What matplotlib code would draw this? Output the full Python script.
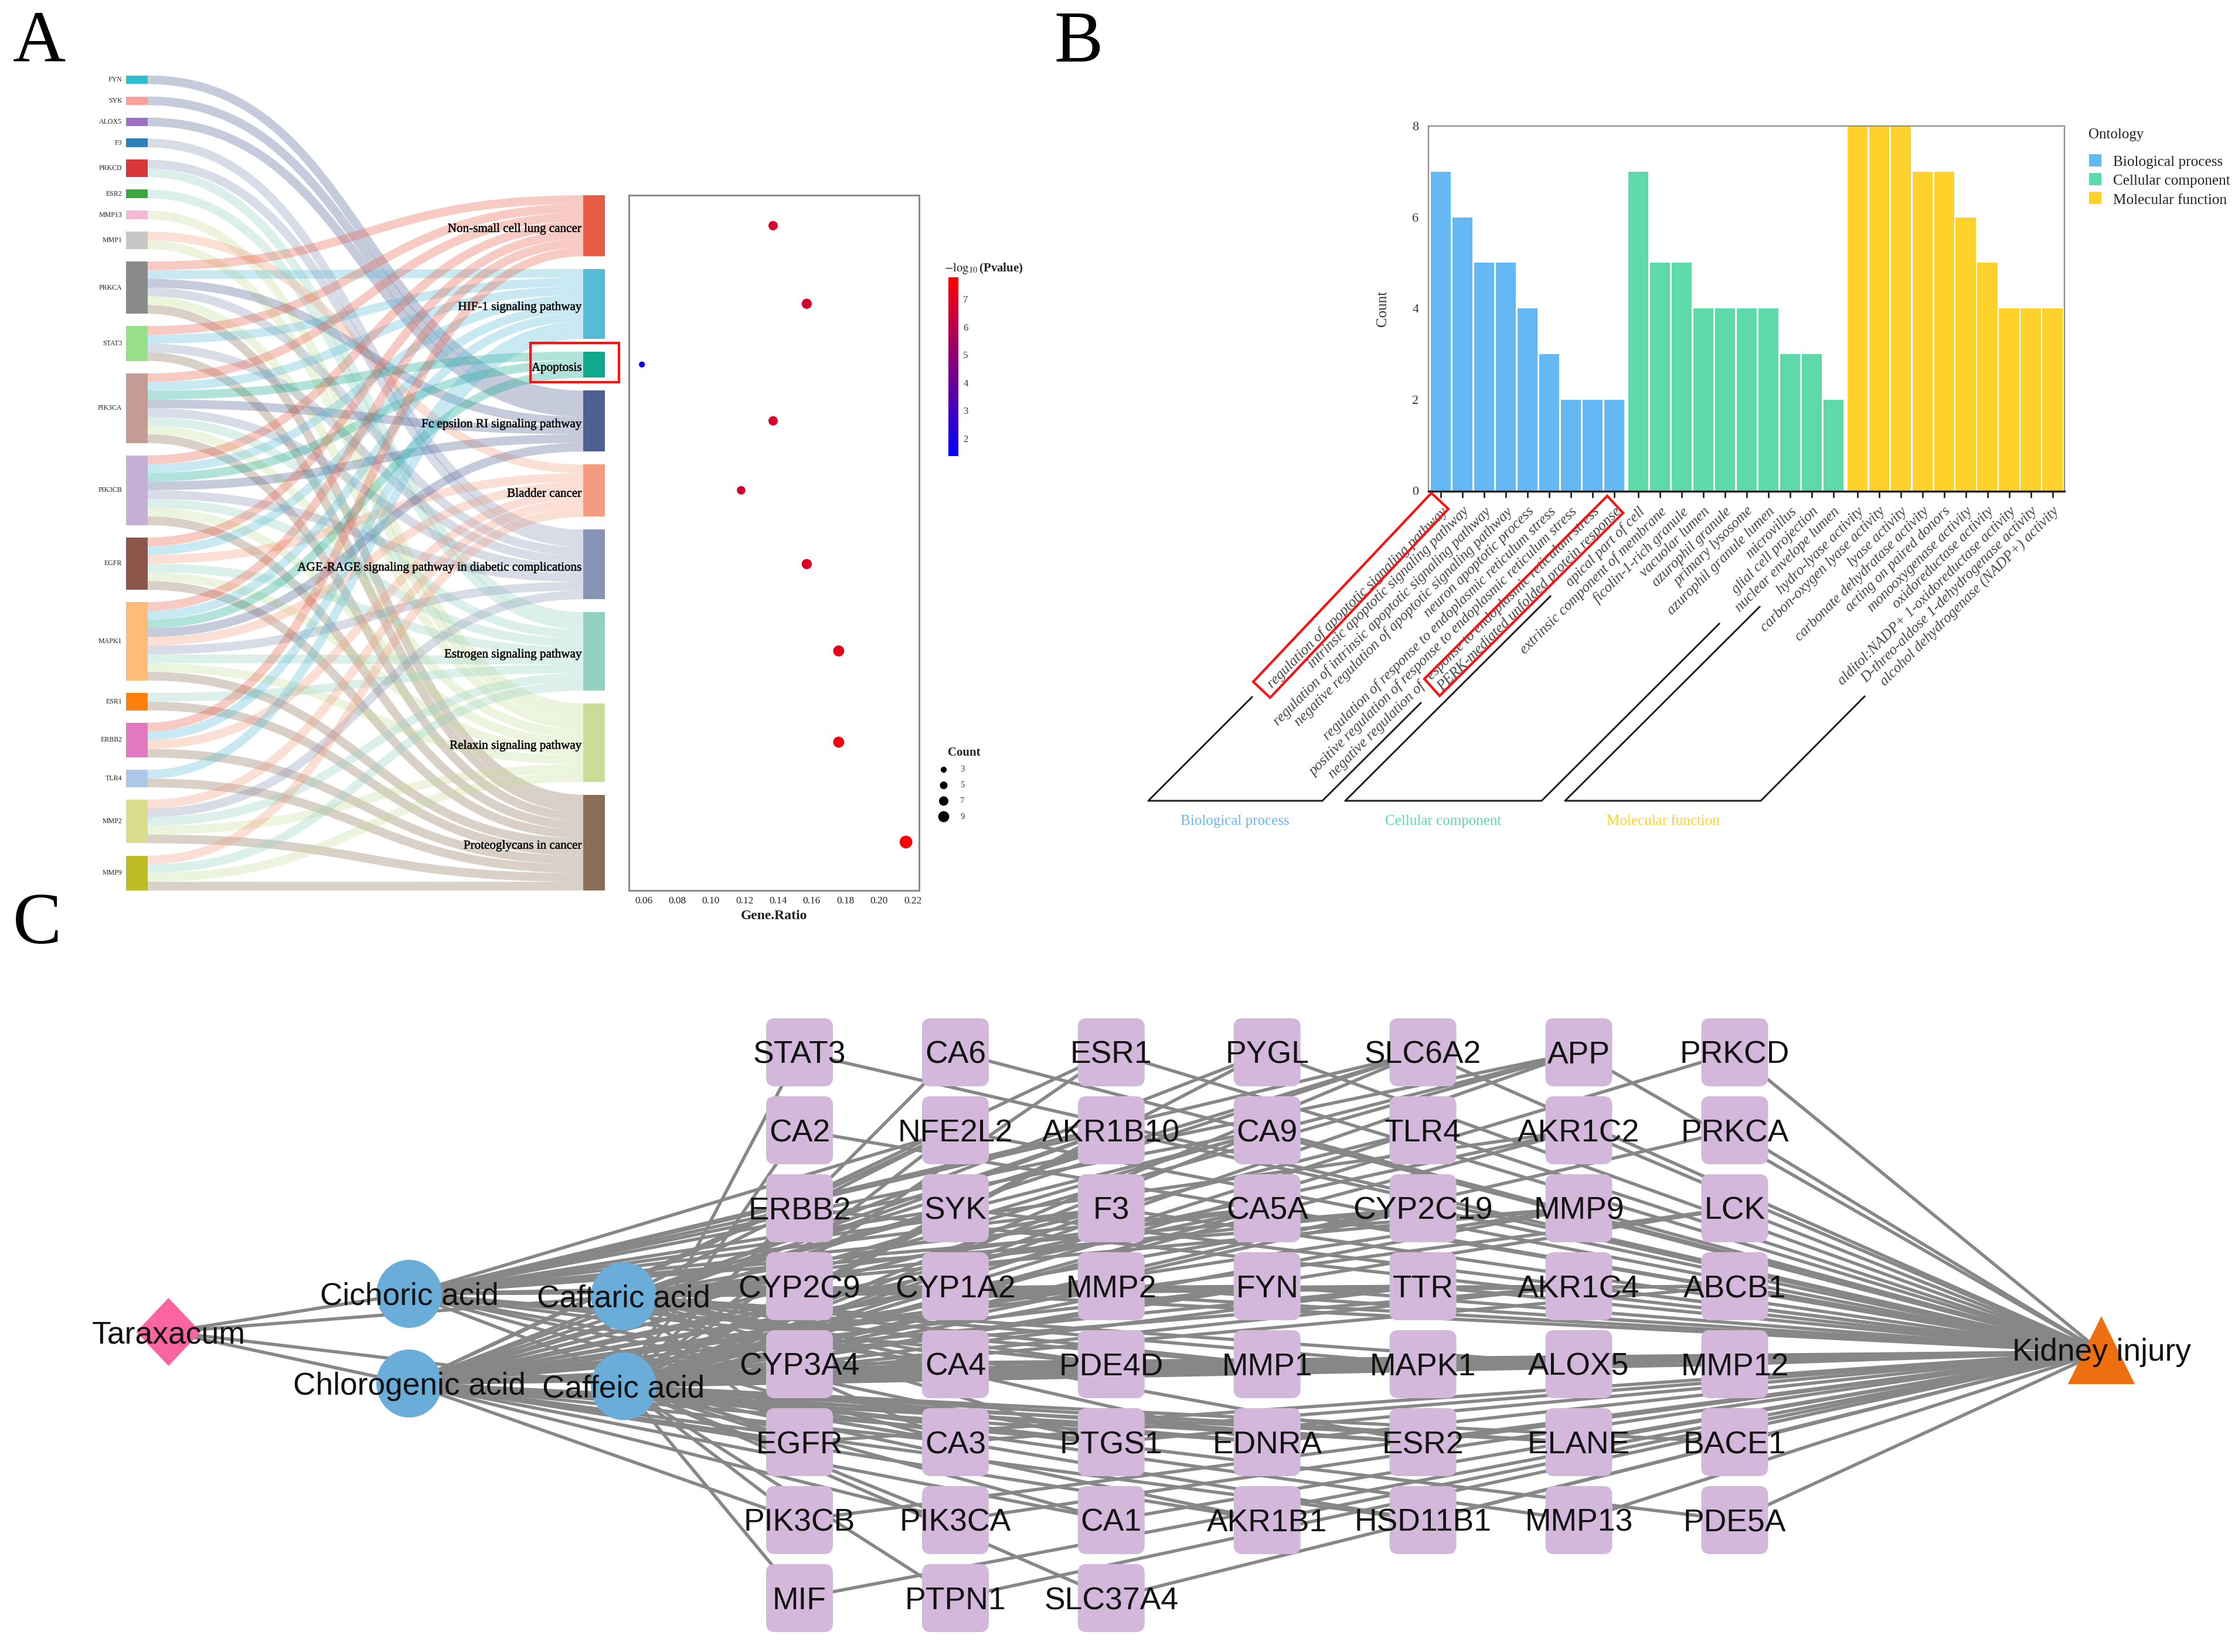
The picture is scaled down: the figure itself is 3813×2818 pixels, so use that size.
import matplotlib
matplotlib.use("Agg")
import matplotlib.pyplot as plt
import numpy as np
from matplotlib.path import Path
from matplotlib.patches import PathPatch, Rectangle, Polygon, Ellipse, FancyBboxPatch
from matplotlib.colors import LinearSegmentedColormap, Normalize
from matplotlib.cm import ScalarMappable
import matplotlib.patheffects as pe

W, H = 3813, 2818
SERIF = "Liberation Serif"
SANS = "Liberation Sans"
plt.rcParams["mathtext.fontset"] = "stix"

# ---- panel A data
genes = ["FYN", "SYK", "ALOX5", "F3", "PRKCD", "ESR2", "MMP13", "MMP1", "PRKCA", "STAT3",
         "PIK3CA", "PIK3CB", "EGFR", "MAPK1", "ESR1", "ERBB2", "TLR4", "MMP2", "MMP9"]
gene_colors = ["#2bc0d0", "#ff9e9a", "#9c6fc4", "#2f7fbb", "#d8363b", "#3aa73f", "#f7b6d2", "#c7c7c7",
               "#8a8a8a", "#98df8a", "#c49c94", "#c5b0d5", "#8c564b", "#ffbb78", "#ff7f0e", "#e377c2",
               "#aec7e8", "#dbdb8d", "#bcbd22"]
pathways = ["Non-small cell lung cancer", "HIF-1 signaling pathway", "Apoptosis",
            "Fc epsilon RI signaling pathway", "Bladder cancer",
            "AGE-RAGE signaling pathway in diabetic complications", "Estrogen signaling pathway",
            "Relaxin signaling pathway", "Proteoglycans in cancer"]
path_colors = ["#e85c45", "#56bbd6", "#10a98c", "#4c6092", "#f49c7f", "#8894b6", "#93d2c2", "#c9dd96", "#8a6d54"]
gene_links = {
    "FYN": [3], "SYK": [3], "ALOX5": [3], "F3": [5], "PRKCD": [5, 6], "ESR2": [6], "MMP13": [7],
    "MMP1": [4, 7], "PRKCA": [0, 1, 3, 5, 7, 8], "STAT3": [0, 1, 5, 8],
    "PIK3CA": [0, 1, 2, 3, 5, 6, 7, 8], "PIK3CB": [0, 1, 2, 3, 5, 6, 7, 8],
    "EGFR": [0, 1, 4, 6, 7, 8], "MAPK1": [0, 1, 2, 3, 4, 5, 6, 7, 8], "ESR1": [6, 8],
    "ERBB2": [0, 1, 4, 8], "TLR4": [1, 8], "MMP2": [4, 5, 6, 7, 8], "MMP9": [4, 6, 7, 8],
}
gene_ratio = [0.137, 0.157, 0.059, 0.137, 0.118, 0.157, 0.176, 0.176, 0.216]
path_counts = [7, 8, 3, 7, 6, 8, 9, 9, 11]
log_p = [6.8, 6.6, 1.5, 6.8, 6.7, 6.9, 7.1, 7.4, 7.75]
count_legend = [3, 5, 7, 9]

# ---- panel B data
bp_terms = ["regulation of apoptotic signaling pathway", "intrinsic apoptotic signaling pathway",
            "regulation of intrinsic apoptotic signaling pathway",
            "negative regulation of apoptotic signaling pathway", "neuron apoptotic process",
            "regulation of response to endoplasmic reticulum stress",
            "positive regulation of response to endoplasmic reticulum stress",
            "negative regulation of response to endoplasmic reticulum stress",
            "PERK-mediated unfolded protein response"]
bp_counts = [7, 6, 5, 5, 4, 3, 2, 2, 2]
cc_terms = ["apical part of cell", "extrinsic component of membrane", "ficolin-1-rich granule",
            "vacuolar lumen", "azurophil granule", "primary lysosome", "azurophil granule lumen",
            "microvillus", "glial cell projection", "nuclear envelope lumen"]
cc_counts = [7, 5, 5, 4, 4, 4, 4, 3, 3, 2]
mf_terms = ["hydro-lyase activity", "carbon-oxygen lyase activity", "lyase activity",
            "carbonate dehydratase activity", "acting on paired donors", "monooxygenase activity",
            "oxidoreductase activity", "alditol:NADP+ 1-oxidoreductase activity",
            "D-threo-aldose 1-dehydrogenase activity", "alcohol dehydrogenase (NADP+) activity"]
mf_counts = [8, 8, 8, 7, 7, 6, 5, 4, 4, 4]
onto_names = ["Biological process", "Cellular component", "Molecular function"]
onto_colors = ["#64b9f4", "#5ed9a9", "#ffd22b"]

# ---- panel C data
grid = [["STAT3", "CA2", "ERBB2", "CYP2C9", "CYP3A4", "EGFR", "PIK3CB", "MIF"],
        ["CA6", "NFE2L2", "SYK", "CYP1A2", "CA4", "CA3", "PIK3CA", "PTPN1"],
        ["ESR1", "AKR1B10", "F3", "MMP2", "PDE4D", "PTGS1", "CA1", "SLC37A4"],
        ["PYGL", "CA9", "CA5A", "FYN", "MMP1", "EDNRA", "AKR1B1"],
        ["SLC6A2", "TLR4", "CYP2C19", "TTR", "MAPK1", "ESR2", "HSD11B1"],
        ["APP", "AKR1C2", "MMP9", "AKR1C4", "ALOX5", "ELANE", "MMP13"],
        ["PRKCD", "PRKCA", "LCK", "ABCB1", "MMP12", "BACE1", "PDE5A"]]
compound_targets = {
    "Cichoric acid": ["ERBB2", "SYK", "NFE2L2", "AKR1B10", "CA9", "SLC6A2", "APP", "AKR1C2", "CYP2C9", "CYP1A2",
                      "MMP2", "FYN", "MMP9", "CYP2C19", "TTR", "AKR1C4", "ABCB1", "CYP3A4", "CA4", "PDE4D", "MMP1",
                      "EGFR", "CA3", "PTGS1", "CA5A", "F3"],
    "Chlorogenic acid": ["APP", "SLC6A2", "ESR1", "PYGL", "NFE2L2", "AKR1B10", "CA9", "TLR4", "AKR1C2", "CYP2C9",
                         "CYP1A2", "F3", "CA5A", "CYP2C19", "MMP9", "LCK", "MMP2", "FYN", "TTR", "PIK3CB", "PIK3CA",
                         "CA1", "EGFR", "CA3", "PTGS1", "EDNRA", "ESR2", "ELANE", "AKR1B1", "HSD11B1", "CYP3A4",
                         "CA4", "PDE4D", "MMP1", "MAPK1", "ALOX5", "MMP12", "AKR1C4"],
    "Caftaric acid": ["ERBB2", "CYP2C9", "CYP1A2", "NFE2L2", "AKR1B10", "SLC6A2", "APP", "CA5A", "F3", "MMP2",
                      "CYP2C19", "MMP9", "TTR", "FYN", "CYP3A4", "CA4", "PDE4D", "MMP1", "MAPK1", "ALOX5", "EGFR",
                      "CA3", "EDNRA", "ESR2", "AKR1C4", "ABCB1", "SYK", "PTGS1"],
    "Caffeic acid": ["STAT3", "CA2", "CA6", "NFE2L2", "ERBB2", "SYK", "ESR1", "AKR1B10", "PYGL", "CA9", "SLC6A2",
                     "TLR4", "APP", "AKR1C2", "PRKCD", "PRKCA", "CYP2C9", "CYP1A2", "MMP2", "FYN", "TTR", "AKR1C4",
                     "ABCB1", "CYP3A4", "CA4", "PDE4D", "MMP1", "MAPK1", "ALOX5", "MMP12", "EGFR", "CA3", "PTGS1",
                     "EDNRA", "ESR2", "ELANE", "BACE1", "PIK3CB", "PIK3CA", "CA1", "AKR1B1", "HSD11B1", "MMP13",
                     "PDE5A", "MIF", "PTPN1", "SLC37A4", "F3", "CA5A", "CYP2C19", "MMP9", "LCK"],
}

fig = plt.figure(figsize=(W / 100, H / 100), dpi=100, facecolor="white")


def px_axes(left, top, right, bottom):
    return fig.add_axes([left / W, 1 - bottom / H, (right - left) / W, (bottom - top) / H])


# ---------------- A: sankey
unit_px = 14.85
left_gap = 1.42
right_start = 13.76
right_gap = 1.475
axA = px_axes(215, 128.6, 1032, 1519)
total_units = sum(len(gene_links[g]) for g in genes) + left_gap * (len(genes) - 1)
axA.set_xlim(0, 1)
axA.set_ylim(total_units, 0)
axA.axis("off")
node_w = 37 / 817

gene_top = {}
y = 0
for g in genes:
    gene_top[g] = y
    y += len(gene_links[g]) + left_gap
path_top = []
y = right_start
for c in path_counts:
    path_top.append(y)
    y += c + right_gap

filled = [0] * len(pathways)
for g in genes:
    for k, p in enumerate(gene_links[g]):
        y0 = gene_top[g] + k + 0.5
        y1 = path_top[p] + filled[p] + 0.5
        filled[p] += 1
        x0, x1 = node_w, 1 - node_w
        xm = (x0 + x1) / 2
        band = Path([(x0, y0), (xm, y0), (xm, y1), (x1, y1)],
                    [Path.MOVETO, Path.CURVE4, Path.CURVE4, Path.CURVE4])
        axA.add_patch(PathPatch(band, fill=False, edgecolor=path_colors[p], alpha=0.32,
                                lw=unit_px * 0.72, capstyle="butt"))

for g, c in zip(genes, gene_colors):
    n = len(gene_links[g])
    axA.add_patch(Rectangle((0, gene_top[g]), node_w, n, color=c, lw=0))
    axA.text(-0.008, gene_top[g] + n / 2, g, ha="right", va="center", fontsize=8.6, family=SERIF, color="#222222")
for i, p in enumerate(pathways):
    axA.add_patch(Rectangle((1 - node_w, path_top[i]), node_w, path_counts[i], color=path_colors[i], lw=0))
    axA.text(1 - node_w - 0.003, path_top[i] + path_counts[i] / 2 + 0.4, p, ha="right", va="center",
             fontsize=15.2, family=SERIF, color="#111111",
             path_effects=[pe.withStroke(linewidth=0.4, foreground="#111111")])

# ---------------- A: dot plot, same vertical layout as the right-hand nodes
axD = px_axes(1072.5, 333, 1568, 1519)
axD.set_xlim(0.0511, 0.2238)
top_units, bottom_units = (333 - 128.6) / unit_px, (1519 - 128.6) / unit_px
axD.set_ylim(bottom_units, top_units)
path_mid = [t + c / 2 for t, c in zip(path_top, path_counts)]
dot_cmap = LinearSegmentedColormap.from_list("bluered", ["#0000ff", "#ff0000"])
dot_norm = Normalize(1.37, 7.79)


def dot_size(count):
    return ((6 + 1.42 * np.asarray(count, dtype=float)) * 0.72) ** 2


axD.scatter(gene_ratio, path_mid, s=dot_size(path_counts), c=log_p, cmap=dot_cmap, norm=dot_norm, lw=0)
axD.set_yticks([])
axD.set_xticks(np.arange(0.06, 0.221, 0.02))
axD.set_xticklabels(["%.2f" % v for v in np.arange(0.06, 0.221, 0.02)], family=SERIF, fontsize=12.5, color="#222222")
axD.tick_params(axis="x", length=0, pad=7)
axD.set_xlabel("Gene.Ratio", family=SERIF, fontsize=17, fontweight="bold", color="#222222", labelpad=5)
for s in axD.spines.values():
    s.set_color("#8c8c8c")
    s.set_linewidth(2.2)

cax = px_axes(1618, 472.5, 1635, 778)
cb = fig.colorbar(ScalarMappable(dot_norm, dot_cmap), cax=cax)
cb.set_ticks([2, 3, 4, 5, 6, 7])
cb.outline.set_visible(False)
cb.ax.tick_params(length=0, pad=6, labelsize=12)
for t in cb.ax.get_yticklabels():
    t.set_family(SERIF)
    t.set_color("#333333")

# ---------------- B: bars
terms = bp_terms + cc_terms + mf_terms
counts = bp_counts + cc_counts + mf_counts
group = [0] * len(bp_terms) + [1] * len(cc_terms) + [2] * len(mf_terms)
group_gap = 0.108
bar_x = np.arange(len(terms)) + np.array(group) * group_gap
axB = px_axes(2437, 215, 3522, 837.5)
axB.bar(bar_x, counts, width=0.92, color=[onto_colors[g] for g in group])
axB.set_xlim(-0.557, 28.77)
axB.set_ylim(0, 8)
axB.set_yticks([0, 2, 4, 6, 8])
axB.set_yticklabels(["0", "2", "4", "6", "8"], family=SERIF, fontsize=16, color="#333333")
axB.set_ylabel("Count", family=SERIF, fontsize=18, color="#333333", labelpad=28)
axB.set_xticks(bar_x)
axB.set_xticklabels(terms, rotation=45, ha="right", va="top", rotation_mode="anchor",
                    family=SERIF, style="italic", fontsize=18.2, color="#444444")
axB.tick_params(axis="x", length=8, width=2, pad=9, color="#222222")
axB.tick_params(axis="y", length=0, pad=12)
for name, s in axB.spines.items():
    s.set_color("#111111" if name == "bottom" else "#8c8c8c")
    s.set_linewidth(2.4 if name == "bottom" else 1.6)

# ---------------- overlay in figure pixels: annotations and network
ov = fig.add_axes([0, 0, 1, 1], facecolor="none")
ov.set_xlim(0, W)
ov.set_ylim(H, 0)
ov.axis("off")

for letter, lx, ly in [("A", 22, 105), ("B", 1798, 105), ("C", 22, 1609)]:
    ov.text(lx, ly, letter, family=SERIF, fontsize=90, ha="left", va="baseline", color="black")

ov.add_patch(Rectangle((905, 585), 151, 67, fill=False, edgecolor="#ff1010", lw=3))
ov.text(1611, 457.5, r"$-\log_{10}$(Pvalue)", family=SERIF, fontsize=15, fontweight="bold", va="center", color="#222222")
ov.text(1617, 1284, "Count", family=SERIF, fontsize=15, fontweight="bold", va="center", color="#222222")
leg_y = 1313 + np.arange(len(count_legend)) * 26.7
ov.scatter([1610] * len(count_legend), leg_y, s=dot_size(count_legend), c="black", lw=0)
for yy, c in zip(leg_y, count_legend):
    ov.text(1638, yy, str(c), family=SERIF, fontsize=10.5, va="center", color="#333333")

for corners in [[(2442, 841), (2471, 868), (2167, 1190), (2138, 1163)],
                [(2742, 846), (2769, 875), (2456, 1187), (2430, 1158)]]:
    ov.add_patch(Polygon(corners, closed=True, fill=False, edgecolor="#ff1010", lw=3))
for line in [[(2136, 1189), (1959, 1366), (2256, 1366), (2424, 1199)],
             [(2645, 1017), (2295, 1366), (2630, 1366), (2933, 1064)],
             [(3002, 1035), (2670, 1366), (3004, 1366), (3181, 1188)]]:
    ov.plot(*zip(*line), color="#222222", lw=2.2)
for name, col, cx in zip(onto_names, onto_colors, [2107, 2462, 2837]):
    ov.text(cx, 1401, name, family=SERIF, fontsize=18, color=col, ha="center", va="center")
ov.text(3563, 230, "Ontology", family=SERIF, fontsize=18, color="#222222", va="center")
for i, (name, col) in enumerate(zip(onto_names, onto_colors)):
    ov.add_patch(Rectangle((3564, 263 + i * 32), 21, 21, color=col, lw=0))
    ov.text(3605, 277 + i * 32.5, name, family=SERIF, fontsize=18.2, color="#222222", va="center")

col_x = 1364 + np.arange(len(grid)) * 265.9
row_y = 1795 + np.arange(8) * 133
gene_xy = {}
for i, col in enumerate(grid):
    for j, g in enumerate(col):
        gene_xy[g] = (col_x[i], row_y[j])
root_xy = (287.5, 2272)
kidney_xy = (3585, 2306)
compound_xy = {"Cichoric acid": (698, 2207), "Chlorogenic acid": (698, 2360),
               "Caftaric acid": (1064, 2211), "Caffeic acid": (1064, 2364.5)}
edge_col = "#878787"
edge_lw = 4.0


def edge(a, b):
    ov.plot([a[0], b[0]], [a[1], b[1]], color=edge_col, lw=edge_lw, zorder=1, solid_capstyle="round")


for c, xy in compound_xy.items():
    edge(root_xy, xy)
    for g in compound_targets[c]:
        edge(xy, gene_xy[g])
for g, xy in gene_xy.items():
    edge(xy, kidney_xy)

for g, (x, y) in gene_xy.items():
    ov.add_patch(FancyBboxPatch((x - 42, y - 43), 84, 86, boxstyle="round,pad=15,rounding_size=15",
                                facecolor="#d3b8dc", edgecolor="none", zorder=2))
    ov.text(x, y + 5, g, family=SANS, fontsize=38.5, ha="center", va="center", color="#111111", zorder=4)
for c, (x, y) in compound_xy.items():
    ov.add_patch(Ellipse((x, y), 112, 116, facecolor="#69add8", edgecolor="none", zorder=2))
    ov.text(x, y + 5, c, family=SANS, fontsize=38.3, ha="center", va="center", color="#111111", zorder=4)
rx, ry = root_xy
ov.add_patch(Polygon([(rx, ry - 58), (rx + 55, ry), (rx, ry + 58), (rx - 55, ry)], facecolor="#fa64a0",
                     edgecolor="none", zorder=2))
ov.text(rx, ry + 5, "Taraxacum", family=SANS, fontsize=38.5, ha="center", va="center", color="#111111", zorder=4)
ov.add_patch(Polygon([(3585, 2245), (3642, 2361), (3528, 2361)], facecolor="#ee6f10", edgecolor="none", zorder=2))
ov.text(3585, 2307, "Kidney injury", family=SANS, fontsize=38.3, ha="center", va="center", color="#111111", zorder=4)

fig.savefig("out.png", dpi=100, facecolor="white")
